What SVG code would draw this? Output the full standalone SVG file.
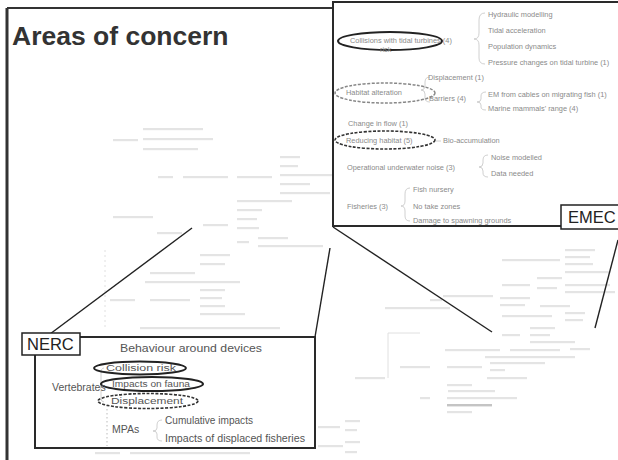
<svg xmlns="http://www.w3.org/2000/svg" width="618" height="460" viewBox="0 0 618 460">
<style>
text{font-family:"Liberation Sans",Arial,sans-serif}
.bg{fill:#e4e4e4}
.frame{fill:none;stroke:#2a2a2a;stroke-width:2}
.zoom{fill:none;stroke:#222;stroke-width:1.4}
.brace{fill:none;stroke:#c4c4c4;stroke-width:0.8}
.et{font-size:7.4px;fill:#8a8a8a}
.nt{font-size:10.5px;fill:#555}
.ct{font-size:8.5px;fill:#555}
.lbl{font-size:16.5px;fill:#222}
.ring{fill:none;stroke:#222;stroke-width:2}
.ringd{fill:none;stroke:#333;stroke-width:1.6;stroke-dasharray:3 1.5}
.ringl{fill:none;stroke:#888;stroke-width:1.5;stroke-dasharray:3 1.5}
</style>
<rect width="618" height="460" fill="#fff"/>

<g id="background-map">
<rect class="bg" x="113" y="139" width="25" height="2.2"/>
<rect class="bg" x="143" y="128" width="60" height="2.2"/>
<rect class="bg" x="143" y="138" width="70" height="2.2"/>
<rect class="bg" x="143" y="148" width="55" height="2.2"/>
<rect class="bg" x="158" y="176" width="15" height="2.2"/>
<rect class="bg" x="183" y="176" width="45" height="2.2"/>
<rect class="bg" x="237" y="176" width="35" height="2.2"/>
<rect class="bg" x="280" y="156" width="20" height="2.2"/>
<rect class="bg" x="280" y="165" width="18" height="2.2"/>
<rect class="bg" x="280" y="174" width="53" height="2.2"/>
<rect class="bg" x="280" y="183" width="30" height="2.2"/>
<rect class="bg" x="280" y="192" width="50" height="2.2"/>
<rect class="bg" x="237" y="200" width="55" height="2.2"/>
<rect class="bg" x="237" y="209" width="25" height="2.2"/>
<rect class="bg" x="237" y="218" width="20" height="2.2"/>
<rect class="bg" x="237" y="227" width="22" height="2.2"/>
<rect class="bg" x="113" y="216" width="40" height="2.2"/>
<rect class="bg" x="203" y="224" width="25" height="2.2"/>
<rect class="bg" x="157" y="232" width="25" height="2.2"/>
<rect class="bg" x="258" y="237" width="30" height="2.2"/>
<rect class="bg" x="258" y="245" width="65" height="2.2"/>
<rect class="bg" x="237" y="241" width="12" height="2.2"/>
<rect class="bg" x="200" y="254" width="30" height="2.2"/>
<rect class="bg" x="200" y="263" width="25" height="2.2"/>
<rect class="bg" x="150" y="272" width="45" height="2.2"/>
<rect class="bg" x="145" y="281" width="95" height="2.2"/>
<rect class="bg" x="110" y="299" width="25" height="2.2"/>
<rect class="bg" x="150" y="299" width="40" height="2.2"/>
<rect class="bg" x="200" y="289" width="25" height="2.2"/>
<rect class="bg" x="200" y="297" width="22" height="2.2"/>
<rect class="bg" x="200" y="305" width="25" height="2.2"/>
<rect class="bg" x="200" y="313" width="45" height="2.2"/>
<rect class="bg" x="140" y="327" width="140" height="2.2"/>
<line x1="105" y1="250" x2="105" y2="330" stroke="#e0e0e0" stroke-width="1" stroke-dasharray="2 3"/>
<rect class="bg" x="95" y="452" width="25" height="2.2"/>
<rect class="bg" x="130" y="452" width="120" height="2.2"/>
<rect class="bg" x="502" y="259" width="58" height="2.2"/>
<rect class="bg" x="565" y="249" width="30" height="2.2"/>
<rect class="bg" x="565" y="256" width="25" height="2.2"/>
<rect class="bg" x="565" y="263" width="28" height="2.2"/>
<rect class="bg" x="565" y="271" width="45" height="2.2"/>
<rect class="bg" x="502" y="284" width="28" height="2.2"/>
<rect class="bg" x="537" y="277" width="25" height="2.2"/>
<rect class="bg" x="537" y="287" width="20" height="2.2"/>
<rect class="bg" x="565" y="284" width="45" height="2.2"/>
<rect class="bg" x="565" y="291" width="50" height="2.2"/>
<rect class="bg" x="430" y="299" width="12" height="2.2"/>
<rect class="bg" x="443" y="295" width="50" height="2.2"/>
<rect class="bg" x="500" y="297" width="30" height="2.2"/>
<rect class="bg" x="500" y="304" width="25" height="2.2"/>
<rect class="bg" x="540" y="305" width="30" height="2.2"/>
<rect class="bg" x="502" y="315" width="50" height="2.2"/>
<rect class="bg" x="565" y="312" width="20" height="2.2"/>
<rect class="bg" x="565" y="319" width="18" height="2.2"/>
<rect class="bg" x="502" y="334" width="18" height="2.2"/>
<rect class="bg" x="530" y="327" width="25" height="2.2"/>
<rect class="bg" x="530" y="334" width="20" height="2.2"/>
<rect class="bg" x="530" y="341" width="45" height="2.2"/>
<rect class="bg" x="445" y="349" width="55" height="2.2"/>
<rect class="bg" x="510" y="349" width="50" height="2.2"/>
<rect class="bg" x="570" y="348" width="20" height="2.2"/>
<rect class="bg" x="400" y="366" width="30" height="2.2"/>
<rect class="bg" x="447" y="366" width="35" height="2.2"/>
<rect class="bg" x="485" y="356" width="90" height="2.2"/>
<rect class="bg" x="490" y="362" width="55" height="2.2"/>
<rect class="bg" x="490" y="369" width="15" height="2.2"/>
<rect class="bg" x="487" y="377" width="40" height="2.2"/>
<rect class="bg" x="447" y="384" width="25" height="2.2"/>
<rect class="bg" x="448" y="390" width="47" height="2.2"/>
<rect class="bg" x="420" y="397" width="10" height="2.2"/>
<rect class="bg" x="447" y="397" width="70" height="2.2"/>
<rect x="447" y="404" width="45" height="2.4" fill="#c4c4c4"/>
<rect class="bg" x="447" y="411" width="25" height="2.2"/>
<rect class="bg" x="385" y="307" width="65" height="2.2"/>
<rect class="bg" x="355" y="377" width="30" height="2.2"/>
<path d="M420,333 H388 V378" fill="none" stroke="#e0e0e0" stroke-width="1"/>
<rect class="bg" x="318" y="426" width="22" height="2.2"/>
<rect class="bg" x="345" y="420" width="15" height="2.2"/>
<rect class="bg" x="345" y="429" width="12" height="2.2"/>
<rect class="bg" x="318" y="445" width="25" height="2.2"/>
<rect class="bg" x="345" y="441" width="15" height="2.2"/>
<rect class="bg" x="345" y="451" width="12" height="2.2"/>
</g>

<g id="slide-frame">
<line x1="7" y1="8" x2="7" y2="460" stroke="#333" stroke-width="3"/>
<line x1="7" y1="8" x2="333" y2="8" stroke="#333" stroke-width="2"/>
</g>

<g id="title">
<text x="12" y="45" font-size="26.5" font-weight="bold" fill="#333">Areas of concern</text>
</g>

<g id="connectors">
<line class="zoom" x1="50" y1="334" x2="192" y2="228"/>
<line class="zoom" x1="315" y1="337" x2="330" y2="248"/>
<line class="zoom" x1="333" y1="227" x2="492" y2="332"/>
<line class="zoom" x1="618" y1="240" x2="595" y2="328"/>
</g>

<g id="emec-inset">
<path d="M333,2 H618 V226 H333 Z" fill="#fff"/>
<path class="frame" d="M333,227 V2 H618"/>
<line class="frame" x1="333" y1="226" x2="561" y2="226"/>
<g id="emec-braces">
<path class="brace" d="M485,13 Q479,13 479,20 V33 Q479,39 474,39 Q479,39 479,45 V58 Q479,64 485,64"/>
<path class="brace" d="M430,77 Q425,77 425,82 V86 Q425,90 421,90 Q425,90 425,94 V98 Q425,102 430,102"/>
<path class="brace" d="M486,92 Q481,92 481,96 V99 Q481,102 477,102 Q481,102 481,105 V107 Q481,110 486,110"/>
<path class="brace" d="M488,155 Q483,155 483,160 V163 Q483,167 479,167 Q483,167 483,171 V173 Q483,177 488,177"/>
<path class="brace" d="M410,188 Q405,188 405,194 V201 Q405,206 401,206 Q405,206 405,211 V216 Q405,221 410,221"/>
</g>
<g id="n-collisions">
<ellipse class="ring" cx="390" cy="41" rx="52" ry="9"/>
<text class="et" x="350" y="43">Collisions with tidal turbines (4)</text>
<text class="et" x="380" y="52" font-size="5.5">risk</text>
</g>
<g id="n-hydraulic"><text class="et" x="488" y="17">Hydraulic modelling</text></g>
<g id="n-tidal"><text class="et" x="488" y="33">Tidal acceleration</text></g>
<g id="n-population"><text class="et" x="488" y="49">Population dynamics</text></g>
<g id="n-pressure"><text class="et" x="488" y="65">Pressure changes on tidal turbine (1)</text></g>
<g id="n-displacement"><text class="et" x="428" y="80">Displacement (1)</text></g>
<g id="n-habitat">
<ellipse class="ringl" cx="385" cy="93" rx="50" ry="10"/>
<text class="et" x="346" y="95">Habitat alteration</text>
</g>
<g id="n-barriers"><text class="et" x="429" y="101">Barriers (4)</text></g>
<g id="n-em"><text class="et" x="488" y="97">EM from cables on migrating fish (1)</text></g>
<g id="n-marine"><text class="et" x="488" y="111">Marine mammals' range (4)</text></g>
<g id="n-change"><text class="et" x="348" y="126">Change in flow (1)</text></g>
<g id="n-reducing">
<ellipse class="ringd" cx="385" cy="140" rx="50" ry="9"/>
<text class="et" x="346" y="143">Reducing habitat (5)</text>
</g>
<g id="n-bio"><line class="brace" x1="436" y1="141" x2="441" y2="141"/><text class="et" x="443" y="143">Bio-accumulation</text></g>
<g id="n-operational"><text class="et" x="347" y="170">Operational underwater noise (3)</text></g>
<g id="n-noise"><text class="et" x="491" y="160">Noise modelled</text></g>
<g id="n-data"><text class="et" x="491" y="176">Data needed</text></g>
<g id="n-fisheries"><text class="et" x="347" y="209">Fisheries (3)</text></g>
<g id="n-nursery"><text class="et" x="413" y="192">Fish nursery</text></g>
<g id="n-notake"><text class="et" x="413" y="209">No take zones</text></g>
<g id="n-spawning"><text class="et" x="413" y="223">Damage to spawning grounds</text></g>
</g>

<g id="emec-label">
<rect x="561" y="205" width="60" height="24" fill="#fff" stroke="#222" stroke-width="1.5"/>
<text class="lbl" x="568" y="223">EMEC</text>
</g>

<g id="nerc-inset">
<rect x="35" y="337" width="280" height="111" fill="#fff"/>
<path class="frame" d="M80,337 H315 V448 H35 V355"/>
<g id="nerc-braces">
<path class="brace" d="M98,390 Q101,390 101,385 V373 Q101,368 104,368"/>
<path class="brace" d="M101,390 V398 Q101,402 104,402"/>
<path class="brace" d="M162,420 Q157,420 157,425 V428 Q157,431 153,431 Q157,431 157,434 V437 Q157,441 162,441"/>
<line x1="107" y1="405" x2="107" y2="446" stroke="#aaa" stroke-width="0.8" stroke-dasharray="1.5 2.5"/>
</g>
<g id="n-behaviour"><text class="nt" x="120" y="352" textLength="142" lengthAdjust="spacingAndGlyphs">Behaviour around devices</text></g>
<g id="n-collision-risk">
<ellipse class="ring" cx="140" cy="368" rx="46" ry="6.5"/>
<text class="ct" x="106" y="371" textLength="70" lengthAdjust="spacingAndGlyphs">Collision risk</text>
</g>
<g id="n-fauna">
<ellipse class="ring" cx="152" cy="384" rx="51" ry="7"/>
<text class="ct" x="112" y="387" textLength="78" lengthAdjust="spacingAndGlyphs">Impacts on fauna</text>
</g>
<g id="n-displace">
<ellipse class="ringd" cx="148" cy="401" rx="50" ry="7.5"/>
<text class="ct" x="111" y="404" textLength="72" lengthAdjust="spacingAndGlyphs">Displacement</text>
</g>
<g id="n-vertebrates"><text class="nt" x="52" y="391" font-size="7" fill="#888">Vertebrates</text></g>
<g id="n-mpas"><text class="nt" x="112" y="433" font-size="8.5">MPAs</text></g>
<g id="n-cumulative"><text class="nt" x="165" y="424" textLength="88" lengthAdjust="spacingAndGlyphs">Cumulative impacts</text></g>
<g id="n-displaced"><text class="nt" x="165" y="442" textLength="140" lengthAdjust="spacingAndGlyphs">Impacts of displaced fisheries</text></g>
</g>

<g id="nerc-label">
<rect x="22" y="333" width="58" height="22" fill="#fff" stroke="#222" stroke-width="1.5"/>
<text class="lbl" x="27" y="350">NERC</text>
</g>
</svg>
